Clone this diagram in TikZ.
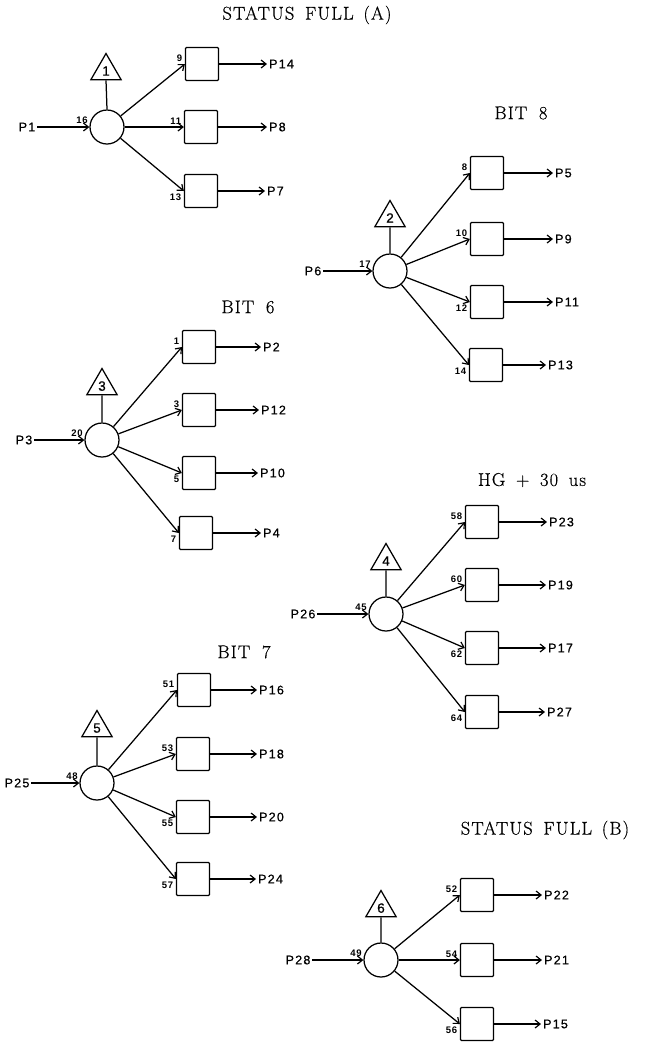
\documentclass[tikz,border=0pt]{standalone}
\usepackage{fontspec}
\setmainfont{Latin Modern Roman}
\newfontfamily\lettering[LetterSpace=10,FakeBold=0.6]{Liberation Sans}
\newfontfamily\smallnum[LetterSpace=8]{Liberation Sans}
\newfontfamily\titlefont[LetterSpace=6,FakeBold=0.5]{Latin Modern Roman}
\usetikzlibrary{arrows.meta,shapes.geometric}
\tikzset{
  every picture/.style={line width=1.25pt},
  junc/.style={circle,draw,minimum size=34pt,inner sep=0pt},
  gate/.style={rectangle,draw,minimum size=33pt,inner sep=0pt,rounded corners=1pt},
  tri/.style={regular polygon,regular polygon sides=3,draw,minimum size=35pt,inner sep=0pt,
              font=\lettering\fontsize{13.5}{14}\selectfont,text depth=0pt,yshift=-2pt},
  sig/.style={font=\lettering\fontsize{12.5}{14}\selectfont,inner sep=1.5pt},
  outsig/.style={sig,anchor=west},
  num/.style={font=\smallnum\bfseries\fontsize{9.5}{10}\selectfont,inner sep=0pt},
  numup/.style={num,anchor=south east,xshift=-2pt,yshift=2pt},
  numdn/.style={num,anchor=north east,xshift=-2pt,yshift=-2pt},
  title/.style={font=\titlefont\fontsize{18.5}{20}\selectfont,inner sep=0pt},
  arr/.style={-{Straight Barb[length=5pt,width=8pt,line width=1.2pt]}}
}
\begin{document}
\begin{tikzpicture}[x=1pt,y=-1pt]
\useasboundingbox (0,0) rectangle (656,1042);

% ---------- STATUS FULL (A)
\node[title] (tA) at (307,15) {STATUS\hspace{4pt} FULL\hspace{3pt} (A)};
\node[junc] (cA) at (107,127) {};
\node[tri] (trA) at (106,69) {1};
\draw (trA.south) -- (cA.north);
\node[sig] (iA) at (27,127) {P1};
\draw[arr] (iA) -- (cA);
\node[num,anchor=south east] (nA0) at ([xshift=-1pt,yshift=3pt]cA.west) {16};
\node[gate] (A1) at (202,64) {};
\node[gate] (A2) at (201,127) {};
\node[gate] (A3) at (201,191) {};
\foreach \b in {A1,A2,A3} \draw[arr] (cA) -- (\b.west);
\node[outsig] (oA1) at (267,64) {P14};
\node[outsig] (oA2) at (267,127) {P8};
\node[outsig] (oA3) at (265,191) {P7};
\draw[arr] (A1) -- (oA1);
\draw[arr] (A2) -- (oA2);
\draw[arr] (A3) -- (oA3);
\node[numup] (nA1) at (A1.west) {9};
\node[numup] (nA2) at (A2.west) {11};
\node[numdn] (nA3) at (A3.west) {13};

% ---------- BIT 8
\node[title] (tB) at (521,113) {BIT\hspace{5pt} 8};
\node[junc] (cB) at (390,271) {};
\node[tri] (trB) at (390,216) {2};
\draw (trB.south) -- (cB.north);
\node[sig] (iB) at (313,271) {P6};
\draw[arr] (iB) -- (cB);
\node[num,anchor=south east] (nB0) at ([xshift=-1pt,yshift=3pt]cB.west) {17};
\node[gate] (B1) at (487,173) {};
\node[gate] (B2) at (487,239) {};
\node[gate] (B3) at (487,302) {};
\node[gate] (B4) at (486,365) {};
\foreach \b in {B1,B2,B3,B4} \draw[arr] (cB) -- (\b.west);
\node[outsig] (oB1) at (553,173) {P5};
\node[outsig] (oB2) at (553,239) {P9};
\node[outsig] (oB3) at (553,302) {P11};
\node[outsig] (oB4) at (546,365) {P13};
\draw[arr] (B1) -- (oB1);
\draw[arr] (B2) -- (oB2);
\draw[arr] (B3) -- (oB3);
\draw[arr] (B4) -- (oB4);
\node[numup] (nB1) at (B1.west) {8};
\node[numup] (nB2) at (B2.west) {10};
\node[numdn] (nB3) at (B3.west) {12};
\node[numdn] (nB4) at (B4.west) {14};

% ---------- BIT 6
\node[title] (tC) at (248,307) {BIT\hspace{5pt} 6};
\node[junc] (cC) at (102,440) {};
\node[tri] (trC) at (102,384) {3};
\draw (trC.south) -- (cC.north);
\node[sig] (iC) at (24,440) {P3};
\draw[arr] (iC) -- (cC);
\node[num,anchor=south east] (nC0) at ([xshift=-1pt,yshift=3pt]cC.west) {20};
\node[gate] (C1) at (199,347) {};
\node[gate] (C2) at (199,410) {};
\node[gate] (C3) at (199,473) {};
\node[gate] (C4) at (196,533) {};
\foreach \b in {C1,C2,C3,C4} \draw[arr] (cC) -- (\b.west);
\node[outsig] (oC1) at (261,347) {P2};
\node[outsig] (oC2) at (259,410) {P12};
\node[outsig] (oC3) at (258,473) {P10};
\node[outsig] (oC4) at (261,533) {P4};
\draw[arr] (C1) -- (oC1);
\draw[arr] (C2) -- (oC2);
\draw[arr] (C3) -- (oC3);
\draw[arr] (C4) -- (oC4);
\node[numup] (nC1) at (C1.west) {1};
\node[numup] (nC2) at (C2.west) {3};
\node[numdn] (nC3) at (C3.west) {5};
\node[numdn] (nC4) at (C4.west) {7};

% ---------- HG + 30 us
\node[title] (tD) at (532,480) {HG\hspace{4pt} +\hspace{4pt} 30\hspace{4pt} us};
\node[junc] (cD) at (386,614) {};
\node[tri] (trD) at (386,559) {4};
\draw (trD.south) -- (cD.north);
\node[sig] (iD) at (303,614) {P26};
\draw[arr] (iD) -- (cD);
\node[num,anchor=south east] (nD0) at ([xshift=-1pt,yshift=3pt]cD.west) {45};
\node[gate] (D1) at (482,522) {};
\node[gate] (D2) at (482,585) {};
\node[gate] (D3) at (482,648) {};
\node[gate] (D4) at (482,712) {};
\foreach \b in {D1,D2,D3,D4} \draw[arr] (cD) -- (\b.west);
\node[outsig] (oD1) at (547,522) {P23};
\node[outsig] (oD2) at (546,585) {P19};
\node[outsig] (oD3) at (546,648) {P17};
\node[outsig] (oD4) at (545,712) {P27};
\draw[arr] (D1) -- (oD1);
\draw[arr] (D2) -- (oD2);
\draw[arr] (D3) -- (oD3);
\draw[arr] (D4) -- (oD4);
\node[numup] (nD1) at (D1.west) {58};
\node[numup] (nD2) at (D2.west) {60};
\node[numdn] (nD3) at (D3.west) {62};
\node[numdn] (nD4) at (D4.west) {64};

% ---------- BIT 7
\node[title] (tE) at (244,652) {BIT\hspace{5pt} 7};
\node[junc] (cE) at (97,783) {};
\node[tri] (trE) at (97,726) {5};
\draw (trE.south) -- (cE.north);
\node[sig] (iE) at (17,783) {P25};
\draw[arr] (iE) -- (cE);
\node[num,anchor=south east] (nE0) at ([xshift=-1pt,yshift=3pt]cE.west) {48};
\node[gate] (E1) at (194,690) {};
\node[gate] (E2) at (193,754) {};
\node[gate] (E3) at (193,817) {};
\node[gate] (E4) at (193,879) {};
\foreach \b in {E1,E2,E3,E4} \draw[arr] (cE) -- (\b.west);
\node[outsig] (oE1) at (257,690) {P16};
\node[outsig] (oE2) at (257,754) {P18};
\node[outsig] (oE3) at (257,817) {P20};
\node[outsig] (oE4) at (256,879) {P24};
\draw[arr] (E1) -- (oE1);
\draw[arr] (E2) -- (oE2);
\draw[arr] (E3) -- (oE3);
\draw[arr] (E4) -- (oE4);
\node[numup] (nE1) at (E1.west) {51};
\node[numup] (nE2) at (E2.west) {53};
\node[numdn] (nE3) at (E3.west) {55};
\node[numdn] (nE4) at (E4.west) {57};

% ---------- STATUS FULL (B)
\node[title] (tF) at (545,830) {STATUS\hspace{4pt} FULL\hspace{3pt} (B)};
\node[junc] (cF) at (381,960) {};
\node[tri] (trF) at (381,906) {6};
\draw (trF.south) -- (cF.north);
\node[sig] (iF) at (298,960) {P28};
\draw[arr] (iF) -- (cF);
\node[num,anchor=south east] (nF0) at ([xshift=-1pt,yshift=3pt]cF.west) {49};
\node[gate] (F1) at (477,895) {};
\node[gate] (F2) at (477,960) {};
\node[gate] (F3) at (477,1024) {};
\foreach \b in {F1,F2,F3} \draw[arr] (cF) -- (\b.west);
\node[outsig] (oF1) at (542,895) {P22};
\node[outsig] (oF2) at (542,960) {P21};
\node[outsig] (oF3) at (541,1024) {P15};
\draw[arr] (F1) -- (oF1);
\draw[arr] (F2) -- (oF2);
\draw[arr] (F3) -- (oF3);
\node[numup] (nF1) at (F1.west) {52};
\node[numup] (nF2) at (F2.west) {54};
\node[numdn] (nF3) at (F3.west) {56};
\end{tikzpicture}
\end{document}
